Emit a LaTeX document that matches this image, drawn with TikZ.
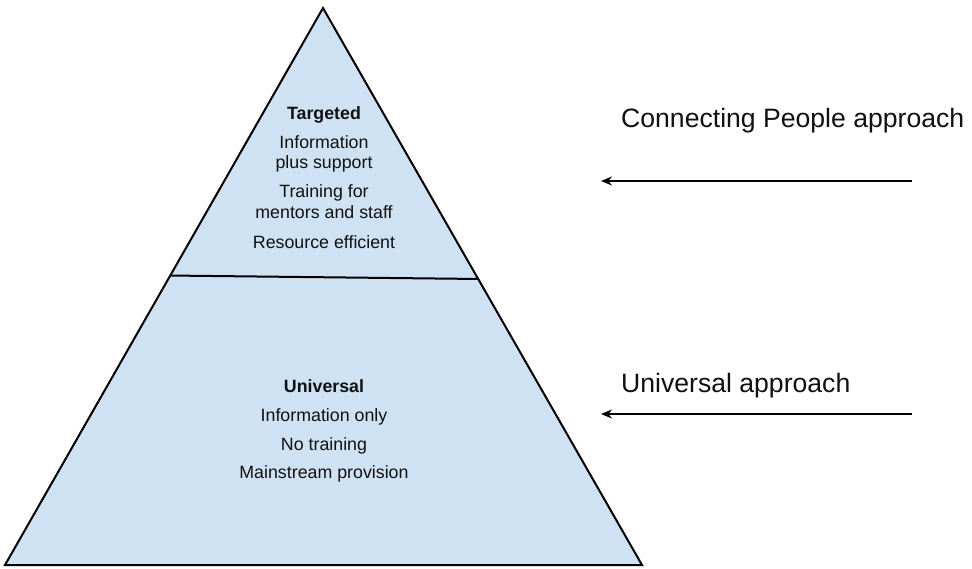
\documentclass[tikz,border=0pt]{standalone}
\usepackage{fontspec}
\setmainfont{Liberation Sans}
\usetikzlibrary{calc,arrows.meta}
\definecolor{pyrfill}{HTML}{CFE2F3}
\definecolor{inktext}{HTML}{111111}
\tikzset{
  pyrline/.style={draw=black, line width=2pt, line join=miter},
  tiertext/.style={anchor=base, inner sep=0pt, text=inktext, font=\fontsize{17.8}{20}\selectfont, align=center},
  sidetext/.style={anchor=base west, inner sep=0pt, text=inktext, font=\fontsize{26.6}{30}\selectfont},
  pointer/.style={draw=black, line width=1.8pt, -{Stealth[length=11pt,width=9pt]}}
}
\begin{document}
\begin{tikzpicture}[x=1pt,y=-1pt]
\useasboundingbox (0,0) rectangle (972,568);
\fill[white] (0,0) rectangle (972,568);
\coordinate (apex) at (323,8);
\coordinate (bl) at (5,565);
\coordinate (br) at (642,565);
\fill[pyrfill] (apex) -- (br) -- (bl) -- cycle;
\coordinate (dl) at ($(apex)!0.4803!(bl)$);
\coordinate (dr) at ($(apex)!0.4865!(br)$);
\draw[pyrline] (dl) -- (dr);
\draw[pyrline] (apex) -- (br) -- (bl) -- cycle;
% top tier
\node[tiertext, font=\fontsize{17.8}{20}\selectfont\bfseries] (t0) at (324,119) {Targeted};
\node[tiertext] (t1) at (324,148) {Information};
\node[tiertext] (t2) at (324,168) {plus support};
\node[tiertext] (t3) at (324,197) {Training for};
\node[tiertext] (t4) at (324,218) {mentors and staff};
\node[tiertext] (t5) at (324,248) {Resource efficient};
% bottom tier
\node[tiertext, font=\fontsize{17.8}{20}\selectfont\bfseries] (u0) at (324,392) {Universal};
\node[tiertext] (u1) at (324,421) {Information only};
\node[tiertext] (u2) at (324,450) {No training};
\node[tiertext] (u3) at (324,478) {Mainstream provision};
% side labels
\node[sidetext] (cp) at (621,127) {Connecting People approach};
\node[sidetext] (ua) at (621,392) {Universal approach};
\coordinate (a1s) at (912,181);
\coordinate (a1e) at (601,181);
\coordinate (a2s) at (912,414);
\coordinate (a2e) at (601,414);
\draw[pointer] (a1s) -- (a1e);
\draw[pointer] (a2s) -- (a2e);
\end{tikzpicture}
\end{document}
